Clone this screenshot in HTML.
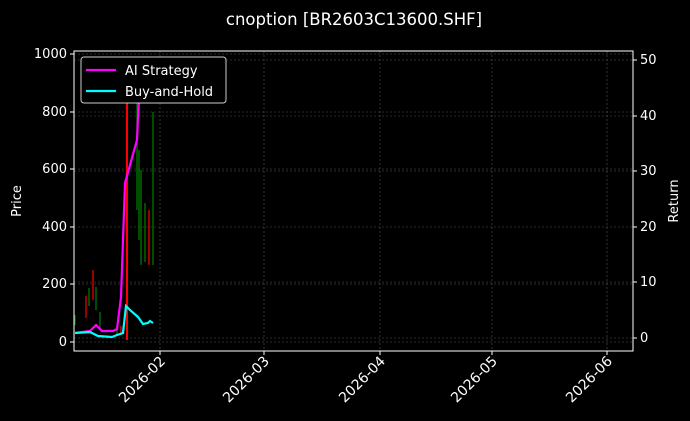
<!DOCTYPE html><html><head><style>body{margin:0;background:#000}svg{display:block}text{font-family:"DejaVu Sans","Liberation Sans",sans-serif;fill:#fff}</style></head><body>
<svg width="690" height="421" viewBox="0 0 690 421">
<rect width="690" height="421" fill="#000"/>
<text x="354" y="25" font-size="16.5" text-anchor="middle">cnoption [BR2603C13600.SHF]</text>
<g stroke="#555" stroke-width="0.6" stroke-dasharray="2,2">
<line x1="160" y1="51" x2="160" y2="351"/><line x1="264" y1="51" x2="264" y2="351"/><line x1="380" y1="51" x2="380" y2="351"/><line x1="492" y1="51" x2="492" y2="351"/><line x1="607" y1="51" x2="607" y2="351"/>
<line x1="74" y1="54" x2="633" y2="54"/><line x1="74" y1="112" x2="633" y2="112"/><line x1="74" y1="169" x2="633" y2="169"/><line x1="74" y1="227" x2="633" y2="227"/><line x1="74" y1="284" x2="633" y2="284"/><line x1="74" y1="342" x2="633" y2="342"/>
<line x1="74" y1="60" x2="633" y2="60"/><line x1="74" y1="116" x2="633" y2="116"/><line x1="74" y1="171" x2="633" y2="171"/><line x1="74" y1="282" x2="633" y2="282"/><line x1="74" y1="338" x2="633" y2="338"/>
</g>
<g stroke-width="1.2">
<line x1="75" y1="315" x2="75" y2="325" stroke="green"/>
<line x1="86" y1="296" x2="86" y2="318" stroke="red"/>
<line x1="89" y1="288" x2="89" y2="306" stroke="green"/>
<line x1="93" y1="270" x2="93" y2="300" stroke="red"/>
<line x1="96" y1="287" x2="96" y2="310" stroke="green"/>
<line x1="100" y1="312" x2="100" y2="328" stroke="green"/>
<line x1="117" y1="325" x2="117" y2="335" stroke="green"/>
<line x1="121" y1="326" x2="121" y2="335" stroke="red"/>
<line x1="127" y1="70" x2="127" y2="340" stroke="red" stroke-width="2"/>
<line x1="137" y1="100" x2="137" y2="210" stroke="green"/>
<line x1="139" y1="150" x2="139" y2="240" stroke="green"/>
<line x1="141" y1="170" x2="141" y2="265" stroke="green"/>
<line x1="145" y1="203" x2="145" y2="262" stroke="green"/>
<line x1="149" y1="210" x2="149" y2="265" stroke="red"/>
<line x1="153" y1="112" x2="153" y2="265" stroke="green"/>
</g>
<polyline fill="none" stroke="#f0f" stroke-width="2.2" points="75,333 90,331 96,325 102,331 113,331 117,329 121,297 125,183 137,140 138,117 140,83 143,62 147,60 152,72"/>
<polyline fill="none" stroke="#0ff" stroke-width="2.2" points="75,333 90,332 98,336 112,337 117,335 123,333 126,306 130,310 138,317 143,324 148,323 150,321 153,323"/>
<rect x="74" y="51" width="559" height="300" fill="none" stroke="#fff" stroke-width="1"/>
<g stroke="#fff"><line x1="70" y1="54" x2="74" y2="54"/><line x1="70" y1="112" x2="74" y2="112"/><line x1="70" y1="169" x2="74" y2="169"/><line x1="70" y1="227" x2="74" y2="227"/><line x1="70" y1="284" x2="74" y2="284"/><line x1="70" y1="342" x2="74" y2="342"/>
<line x1="633" y1="60" x2="637" y2="60"/><line x1="633" y1="116" x2="637" y2="116"/><line x1="633" y1="171" x2="637" y2="171"/><line x1="633" y1="227" x2="637" y2="227"/><line x1="633" y1="282" x2="637" y2="282"/><line x1="633" y1="338" x2="637" y2="338"/>
<line x1="160" y1="351" x2="160" y2="355"/><line x1="264" y1="351" x2="264" y2="355"/><line x1="380" y1="351" x2="380" y2="355"/><line x1="492" y1="351" x2="492" y2="355"/><line x1="607" y1="351" x2="607" y2="355"/></g>
<g font-size="13" text-anchor="end"><text x="67" y="58">1000</text><text x="67" y="116">800</text><text x="67" y="173">600</text><text x="67" y="231">400</text><text x="67" y="288">200</text><text x="67" y="346">0</text></g>
<g font-size="13"><text x="640" y="64">50</text><text x="640" y="120">40</text><text x="640" y="175">30</text><text x="640" y="231">20</text><text x="640" y="286">10</text><text x="640" y="342">0</text></g>
<text font-size="13" transform="translate(21,201) rotate(-90)" text-anchor="middle">Price</text>
<text font-size="13" transform="translate(678,201) rotate(-90)" text-anchor="middle">Return</text>
<g font-size="14" text-anchor="end">
<text transform="translate(166,362) rotate(-45)">2026-02</text><text transform="translate(270,362) rotate(-45)">2026-03</text><text transform="translate(386,362) rotate(-45)">2026-04</text><text transform="translate(498,362) rotate(-45)">2026-05</text><text transform="translate(613,362) rotate(-45)">2026-06</text></g>
<rect x="81" y="57" width="145" height="46" rx="3" fill="#000" stroke="#ccc" stroke-width="1"/>
<line x1="86" y1="70" x2="116" y2="70" stroke="#f0f" stroke-width="2.2"/>
<line x1="86" y1="91" x2="116" y2="91" stroke="#0ff" stroke-width="2.2"/>
<text x="125" y="75" font-size="13">AI Strategy</text><text x="125" y="96" font-size="13">Buy-and-Hold</text>
</svg></body></html>
